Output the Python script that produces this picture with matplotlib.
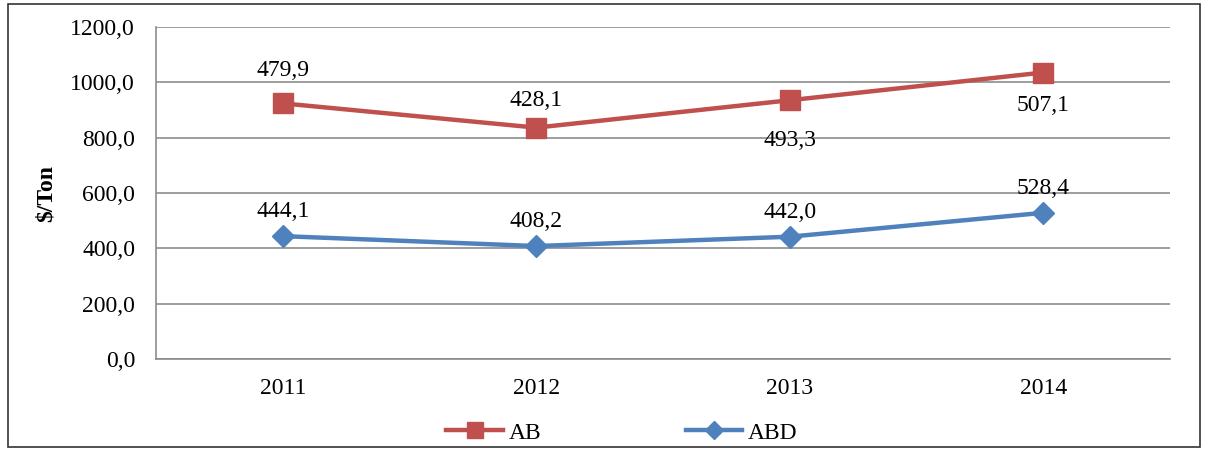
import matplotlib
matplotlib.use("Agg")
import matplotlib.pyplot as plt
from matplotlib.patches import Rectangle

years = ["2011", "2012", "2013", "2014"]
abd = [444.1, 408.2, 442.0, 528.4]
ab = [479.9, 428.1, 493.3, 507.1]
yticks = [0, 200, 400, 600, 800, 1000, 1200]

plt.rcParams['font.family'] = ['Liberation Serif', 'DejaVu Serif']
FS = 17

W, H = 1208, 449
fig = plt.figure(figsize=(W/100, H/100), dpi=100)
ax = fig.add_axes([156/W, 1-359/H, (1170-156)/W, (359-27)/H])

x = list(range(len(years)))
ab_stacked = [a + b for a, b in zip(ab, abd)]

red = '#C0504D'
blue = '#4F81BD'
ax.plot(x, ab_stacked, color=red, lw=3.2, marker='s', ms=14, label='AB', zorder=3)
ax.plot(x, abd, color=blue, lw=3.2, marker='D', ms=11, label='ABD', zorder=3)

fmt = lambda v: f"{v:.1f}".replace('.', ',')
ab_offsets = [24, 19.5, -29, -24]
for xi, ys, v, off in zip(x, ab_stacked, ab, ab_offsets):
    ax.annotate(fmt(v), (xi, ys), xytext=(0, off), textcoords='offset points',
                ha='center', va='center', fontsize=FS)
for xi, ys, v in zip(x, abd, abd):
    ax.annotate(fmt(v), (xi, ys), xytext=(0, 17.5), textcoords='offset points',
                ha='center', va='center', fontsize=FS)

ax.set_xlim(-0.5, len(years) - 0.5)
ax.set_ylim(0, 1200)
ax.set_yticks(yticks)
ax.set_yticklabels([fmt(v) for v in yticks], fontsize=FS)
ax.set_xticks(x)
ax.set_xticklabels(years, fontsize=FS)
ax.tick_params(axis='y', length=0, pad=15)
ax.tick_params(axis='x', length=0, pad=14)
ax.grid(axis='y', color='#8C8C8C', lw=1.2)
ax.set_axisbelow(True)
for s in ['top', 'right']:
    ax.spines[s].set_visible(False)
for s in ['left', 'bottom']:
    ax.spines[s].set_color('#8C8C8C')
    ax.spines[s].set_linewidth(1.2)
ax.set_ylabel('\\$/Ton', fontsize=FS, fontweight='bold')
ax.yaxis.set_label_coords(-99/1014, 0.5)

fig.legend(loc='center', bbox_to_anchor=(622/W, 1-433/H), ncol=2, frameon=False,
           fontsize=FS, columnspacing=6.1, handlelength=2.4, handletextpad=0.25,
           markerscale=0.85)

fig.patches.append(Rectangle((8/W, 2/H), 1192/W, 443/H, transform=fig.transFigure,
                             fill=False, edgecolor='#333333', lw=1.2))

fig.savefig('out.png', dpi=100)
